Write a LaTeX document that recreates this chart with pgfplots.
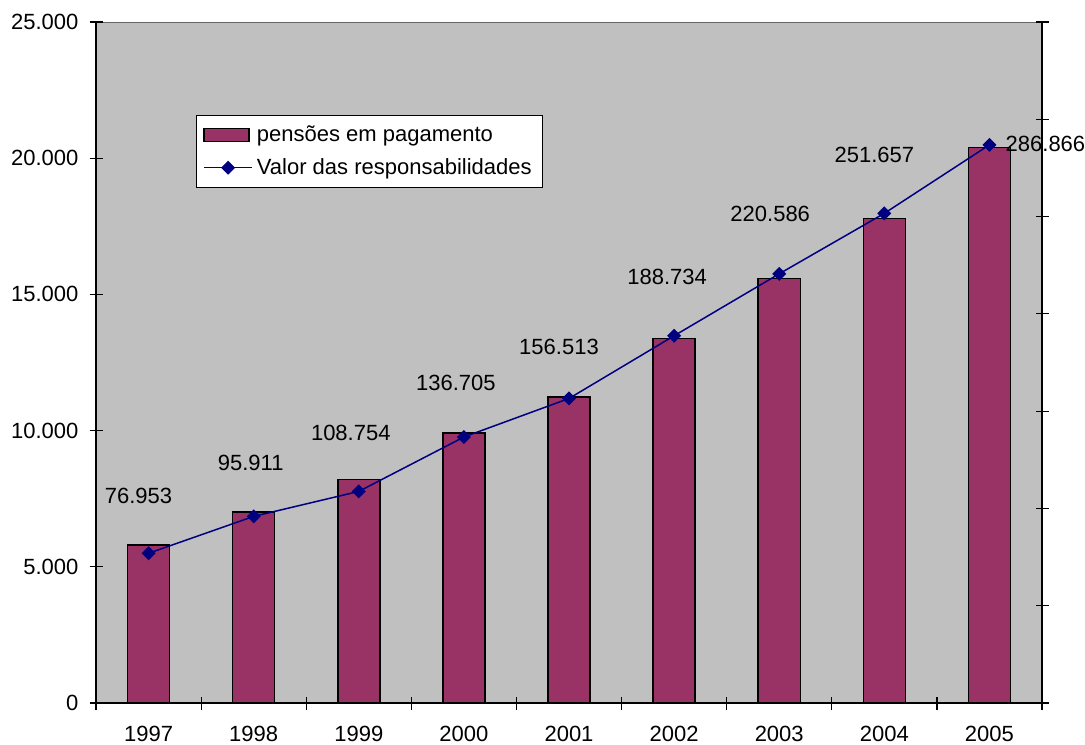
\documentclass[border=0pt]{standalone}
\usepackage{fontspec}
\setmainfont{Liberation Sans}
\usepackage{pgfplots}
\pgfplotsset{compat=1.18}
\usepackage{pgfplotstable}
\definecolor{barc}{HTML}{993366}
\definecolor{linec}{HTML}{000080}
\definecolor{bgc}{HTML}{C0C0C0}
\newcommand{\lblfont}{\fontsize{11}{13.2}\selectfont}

\pgfplotstableread{
x y
0 5800
1 7020
2 8210
3 9920
4 11240
5 13390
6 15590
7 17790
8 20390
}\bars

\pgfplotstableread{
x y lab dx dy
0 76953 76.953 -5 28.5
1 95911 95.911 -1.5 26.5
2 108754 108.754 -4 29
3 136705 136.705 -4 27
4 156513 156.513 -5 26
5 188734 188.734 -3.5 29.5
6 220586 220.586 -4.5 30
7 251657 251.657 -5 29
8 286866 286.866 28 0.5
}\resp

\begin{document}
\begin{tikzpicture}
\begin{axis}[
  scale only axis, width=473pt, height=340.5pt,
  xmin=-0.5, xmax=8.5, ymin=0, ymax=25000,
  axis x line*=bottom, axis y line*=left,
  axis line style={black, line width=0.75pt},
  axis background/.style={fill=bgc, draw=gray!80!black},
  xtick={0,1,2,3,4,5,6,7,8},
  xticklabels={1997,1998,1999,2000,2001,2002,2003,2004,2005},
  minor xtick={-0.5,0.5,1.5,2.5,3.5,4.5,5.5,6.5,7.5,8.5},
  major x tick style={draw=none},
  ytick={0,5000,10000,15000,20000,25000},
  scaled y ticks=false,
  tick align=center, major tick length=6.5pt, minor tick length=6.5pt,
  tick style={black, line width=0.6pt},
  every tick label/.append style={font=\lblfont},
  yticklabel style={/pgf/number format/fixed, /pgf/number format/1000 sep={.}, /pgf/number format/assume math mode=true, xshift=-2pt},
  xticklabel style={yshift=-5pt},
  clip=false,
]
\addplot[ybar, bar width=0.4, fill=barc, draw=black, line width=0.75pt] table[x=x,y=y]{\bars};
\end{axis}
\begin{axis}[
  scale only axis, width=473pt, height=340.5pt,
  xmin=-0.5, xmax=8.5, ymin=0, ymax=350000,
  axis y line*=right, axis x line=none,
  axis line style={black, line width=0.75pt},
  ytick={0,50000,100000,150000,200000,250000,300000,350000},
  yticklabels={}, scaled y ticks=false,
  tick align=center, major tick length=6.5pt,
  tick style={black, line width=0.6pt},
  clip=false,
  legend style={at={(0.1057,0.8634)}, anchor=north west, draw=black, fill=white,
    font=\lblfont, inner xsep=3.5pt, inner ysep=3pt, row sep=3pt,
    nodes={inner sep=2pt}},
  legend cell align=left,
]
\addlegendimage{legend image code/.code={\draw[fill=barc,draw=black,line width=0.75pt] (0pt,-3.25pt) rectangle (22.5pt,3.25pt);}}
\addlegendentry{pensões em pagamento}
\addplot[linec, line width=0.75pt, mark=square*, mark size=2.1pt,
  mark options={rotate=45, fill=linec, solid},
  point meta=explicit symbolic, nodes near coords,
  visualization depends on={\thisrow{dx} \as \dx},
  visualization depends on={\thisrow{dy} \as \dy},
  nodes near coords style={anchor=center, xshift=\dx pt, yshift=\dy pt, text=black, font=\lblfont},
  legend image code/.code={\draw[mark repeat=2,mark phase=2] plot coordinates {(0pt,0pt)(12pt,0pt)(24pt,0pt)};}
] table[x=x, y=y, meta=lab]{\resp};
\addlegendentry{Valor das responsabilidades}
\end{axis}
\pgfresetboundingbox
\path ([shift={(-48pt,-20.5pt)}]current axis.south west) rectangle ([shift={(21.5pt,11pt)}]current axis.north east);
\end{tikzpicture}
\end{document}
